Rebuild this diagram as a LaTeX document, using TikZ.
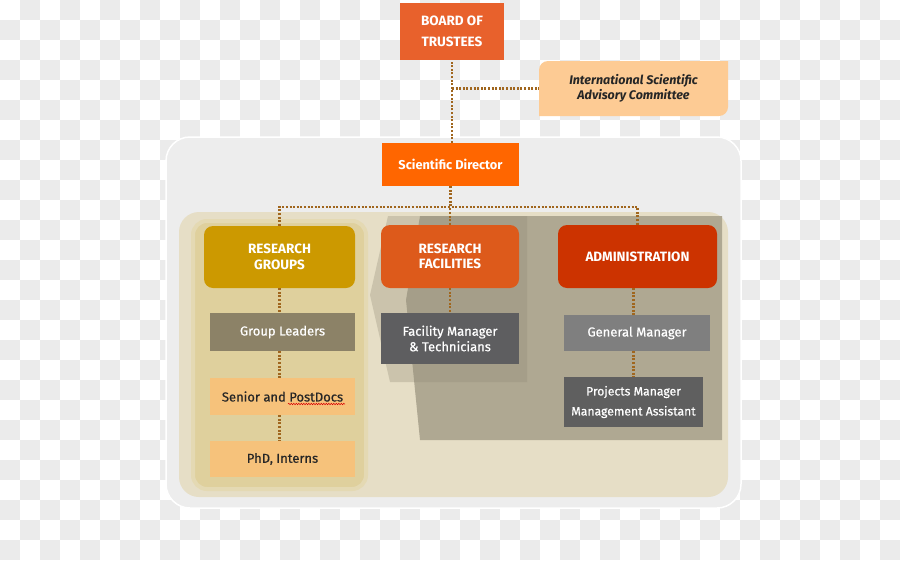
\documentclass[tikz,border=0pt]{standalone}
\usepackage{fontspec}
\setmainfont{Fira Sans}
\newfontfamily\medfont{Fira Sans}[FakeBold=0.6]
\usetikzlibrary{decorations.pathmorphing}
\definecolor{checkgray}{HTML}{EBEBEB}
\definecolor{outerbg}{HTML}{EDEDED}
\definecolor{innerbg}{HTML}{E6DEC6}
\definecolor{colbg}{HTML}{DFD09D}
\definecolor{colring}{HTML}{E4D9B3}
\definecolor{darkshape}{HTML}{AFA892}
\definecolor{paleover}{HTML}{8F8A75}
\definecolor{boardc}{HTML}{E8612C}
\definecolor{sdc}{HTML}{FF6600}
\definecolor{isacc}{HTML}{FDCB94}
\definecolor{rgc}{HTML}{CC9900}
\definecolor{rfc}{HTML}{DD5A1B}
\definecolor{admc}{HTML}{CC3300}
\definecolor{glc}{HTML}{8C8267}
\definecolor{lightor}{HTML}{F6C27B}
\definecolor{fmc}{HTML}{5E5E60}
\definecolor{gmc}{HTML}{7F7F7F}
\definecolor{pmc}{HTML}{5F5F5F}
\definecolor{linec}{HTML}{A0661E}
\definecolor{darktext}{HTML}{262626}
\begin{document}
\begin{tikzpicture}[x=1pt,y=-1pt,
  box/.style={inner sep=1pt, align=center, font=\medfont\fontsize{13}{15.5}\selectfont, text=white},
  head/.style={box, rounded corners=9pt, font=\fontsize{13.5}{15.5}\selectfont\bfseries},
  light/.style={box, fill=lightor, text=darktext},
  conn/.style={draw=linec, line width=2.2pt, dash pattern=on 2pt off 1.6pt}]
\useasboundingbox (0,0) rectangle (900,560);
% checkerboard background
\fill[white] (0,0) rectangle (900,560);
\foreach \i in {0,...,44}{
  \foreach \j in {0,...,27}{
    \pgfmathtruncatemacro\k{mod(\i+\j,2)}
    \ifnum\k=1 \fill[checkgray] (\i*20,\j*20) rectangle ++(20,20); \fi
  }
}
% outer grey panel
\filldraw[fill=outerbg, draw=white, line width=1.5pt, rounded corners=24pt] (166,137) rectangle (741,508);
% inner beige panel
\fill[innerbg, rounded corners=20pt] (179,212) rectangle (728,497);
% dark and pale shapes behind facilities / administration
\fill[darkshape] (420,216) -- (406,300) -- (420,440) -- (722,440) -- (722,216) -- cycle;
\fill[paleover, opacity=0.31] (388,216) -- (370,295) -- (390,382) -- (527,382) -- (527,216) -- cycle;
% research groups column
\filldraw[fill=colbg, draw=colring, line width=4pt, rounded corners=14pt] (193,221) rectangle (366,489);
% advisory committee shape
\fill[isacc] (539,116) -- (539,88) [rounded corners=9pt] -- (539,61) -- (600,61) [sharp corners] -- (728,61) -- (728,88) [rounded corners=9pt] -- (728,116) -- (650,116) [sharp corners] -- cycle;

% nodes
\node[box, fill=boardc, minimum width=104pt, minimum height=57pt, font=\fontsize{13.5}{21}\selectfont\bfseries] (bot) at (452,31.5) {BOARD OF\\TRUSTEES};
\node[box, minimum width=189pt, minimum height=55pt, text=darktext, font=\fontsize{12.5}{15}\selectfont\itshape\bfseries] (isac) at (633.5,88.5) {International Scientific\\Advisory Committee};
\node[box, fill=sdc, minimum width=137pt, minimum height=43pt, font=\fontsize{12.8}{15}\selectfont\bfseries] (sd) at (450.5,164.5) {Scientific Director};
\node[head, fill=rgc, minimum width=151pt, minimum height=62pt] (rg) at (279.5,257) {RESEARCH\\GROUPS};
\node[head, fill=rfc, minimum width=138pt, minimum height=63pt] (rf) at (450,256.5) {RESEARCH\\FACILITIES};
\node[head, fill=admc, minimum width=159pt, minimum height=63pt] (adm) at (637.5,256.5) {ADMINISTRATION};
\node[box, fill=glc, minimum width=145pt, minimum height=38pt] (gl) at (282.5,332) {Group Leaders};
\node[light, minimum width=145pt, minimum height=37pt] (sp) at (282.5,396.5) {Senior and PostDocs};
\node[light, minimum width=145pt, minimum height=36pt] (phd) at (282.5,459) {PhD, Interns};
\node[box, fill=fmc, minimum width=138pt, minimum height=51pt] (fm) at (450,338.5) {Facility Manager\\\&~Technicians};
\node[box, fill=gmc, minimum width=146pt, minimum height=36pt] (gm) at (637,333) {General Manager};
\node[box, fill=pmc, minimum width=139pt, minimum height=50pt, font=\medfont\fontsize{12.2}{20}\selectfont] (pm) at (633.5,402) {Projects Manager\\Management Assistant};

% spell-check squiggle under PostDocs
\draw[red!85!black, line width=0.5pt, decorate, decoration={snake, amplitude=0.7pt, segment length=2.5pt}] (288,404) -- (345,404);

% connectors
\coordinate (bus) at (451,207);
\draw[conn] (sd.north -| bot.south) -- (bot.south);
\draw[conn] (bot.south |- isac.west) -- (isac.west);
\draw[conn] (sd.south) -- (sd.south |- bus);
\draw[conn] (rg.north) -- (rg.north |- bus) -- (adm.north |- bus) -- (adm.north);
\draw[conn] (rf.north) -- (rf.north |- bus);
\draw[conn] (rg.south) -- (rg.south |- gl.north);
\draw[conn] (rg.south |- gl.south) -- (rg.south |- sp.north);
\draw[conn] (rg.south |- sp.south) -- (rg.south |- phd.north);
\draw[conn] (rf.south) -- (fm.north);
\draw[conn] (adm.south -| pm.north) -- (pm.north |- gm.north);
\draw[conn] (pm.north |- gm.south) -- (pm.north);
\end{tikzpicture}
\end{document}
